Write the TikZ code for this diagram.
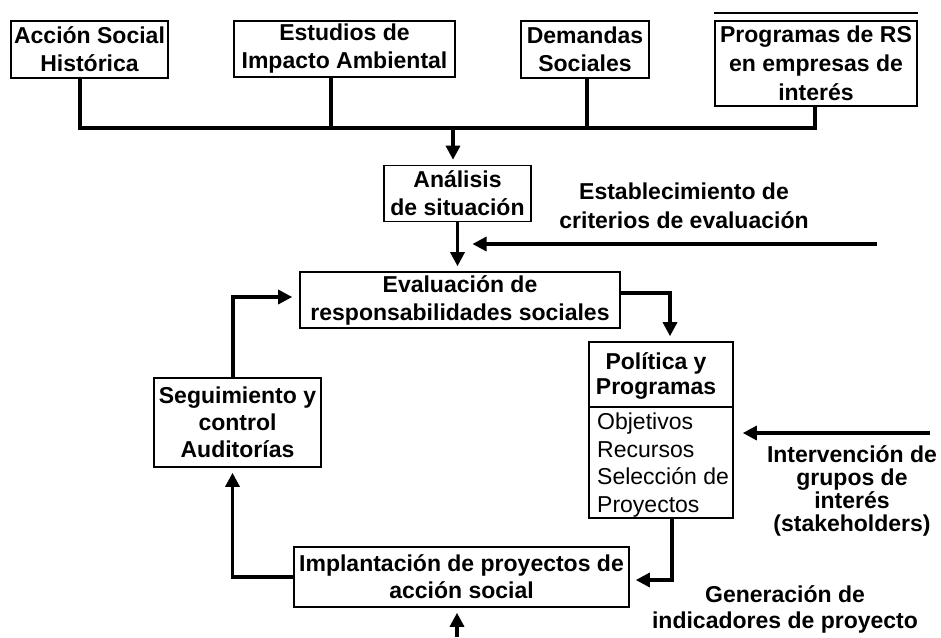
\documentclass[tikz,border=0pt]{standalone}
\usepackage{fontspec}
\setmainfont{Liberation Sans}
\usetikzlibrary{
    arrows.meta,
    positioning
}
\tikzset{
    box/.style={draw, line width=1.6pt, align=center, inner sep=0pt,
        font=\bfseries\fontsize{23}{28}\selectfont},
    flow/.style={line width=3.2pt},
    flowarrow/.style={flow, -{Triangle[length=14pt, width=14pt]}, shorten >=5pt},
    note/.style={align=center, inner sep=0pt, font=\bfseries\fontsize{23}{23}\selectfont}
}

\begin{document}
\begin{tikzpicture}[x=1pt, y=-1pt]
                        \useasboundingbox (0,0) rectangle (941,637);
                        % fuentes de entrada
                        \node[box, minimum width=157pt, minimum height=57pt] (accion) at (89.5,49.5) {Acción Social\\Histórica};
                        \node[box, minimum width=221pt, minimum height=56pt] (estudios) at (344.5,49) {Estudios de\\Impacto Ambiental};
                        \node[box, minimum width=128pt, minimum height=57pt] (demandas) at (585,49.5) {Demandas\\Sociales};
                        \node[box, minimum width=202pt, minimum height=85pt, font=\bfseries\fontsize{23}{29}\selectfont] (programas) at (816,63.5) {Programas de RS\\en empresas de\\interés};
                        \draw[line width=1.6pt] (programas.west |- 0,13) -- (programas.east |- 0,13);
                        % barra colectora
                        \coordinate (busA) at (80,128);
                        \coordinate (busB) at (331,128);
                        \coordinate (busC) at (587,128);
                        \coordinate (busD) at (815,128);
                        \coordinate (bus) at (453,128);
                        \draw[flow] (accion.south -| busA) -- (busA) -- (busD) -- (programas.south -| busD);
                        \draw[flow] (estudios.south -| busB) -- (busB);
                        \draw[flow] (demandas.south -| busC) -- (busC);
                        % ciclo central
                        \node[box, minimum width=147pt, minimum height=56pt] (analisis) at (457.5,193.5) {Análisis\\de situación};
                        \node[box, minimum width=320pt, minimum height=56pt] (evaluacion) at (460,300) {Evaluación de\\responsabilidades sociales};
                        \node[draw, line width=1.6pt, minimum width=144pt, minimum height=176pt, inner sep=0pt] (politica) at (661,430) {};
                        \draw[line width=1.6pt] (politica.west |- 0,407) -- (politica.east |- 0,407);
                        \node[note, font=\bfseries\fontsize{23}{25}\selectfont] (politicaT) at (656,376) {Política y\\Programas};
                        \node[align=left, inner sep=0pt, anchor=west, font=\fontsize{23}{27.5}\selectfont] (politicaL) at (597,465) {Objetivos\\Recursos\\Selección de\\Proyectos};
                        \node[box, minimum width=167pt, minimum height=89pt, font=\bfseries\fontsize{23}{27}\selectfont] (seguimiento) at (237.5,422.5) {Seguimiento y\\control\\Auditorías};
                        \node[box, minimum width=335pt, minimum height=60pt, font=\bfseries\fontsize{23}{27}\selectfont] (implantacion) at (461.5,577) {Implantación de proyectos de\\acción social};
                        % textos laterales
                        \node[note, font=\bfseries\fontsize{23}{29}\selectfont] (criterios) at (684,205.5) {Establecimiento de\\criterios de evaluación};
                        \node[note, font=\bfseries\fontsize{23}{23}\selectfont] (grupos) at (852,491) {Intervención de\\grupos de\\interés\\(stakeholders)};
                        \node[note, font=\bfseries\fontsize{23}{26}\selectfont] (indicadores) at (785,609) {Generación de\\indicadores de proyecto};
                        % flechas
                        \coordinate (critIn) at (877,244);
                        \coordinate (gruposIn) at (930,433);
                        \coordinate (feed) at (457,637);
                        \draw[flowarrow] (bus) -- (analisis.north -| bus);
                        \draw[flowarrow] (analisis.south) -- (analisis.south |- evaluacion.north);
                        \draw[flowarrow, shorten >=15pt] (critIn) -- (analisis.south |- critIn);
                        \draw[flowarrow] ([yshift=7pt]evaluacion.east) -| ([xshift=9pt]politica.north);
                        \draw[flowarrow, shorten >=9pt] (gruposIn) -- (politica.east |- gruposIn);
                        \draw[flowarrow, shorten >=6pt] ([xshift=11pt]politica.south) |- ([yshift=-3pt]implantacion.east);
                        \draw[flowarrow] (implantacion.west) -| ([xshift=-5pt]seguimiento.south);
                        \draw[flowarrow, shorten >=7pt] ([xshift=-4.5pt]seguimiento.north) |- ([yshift=3pt]evaluacion.west);
                        \draw[flowarrow] (feed) -- (implantacion.south -| feed);
                    \end{tikzpicture}
\end{document}
